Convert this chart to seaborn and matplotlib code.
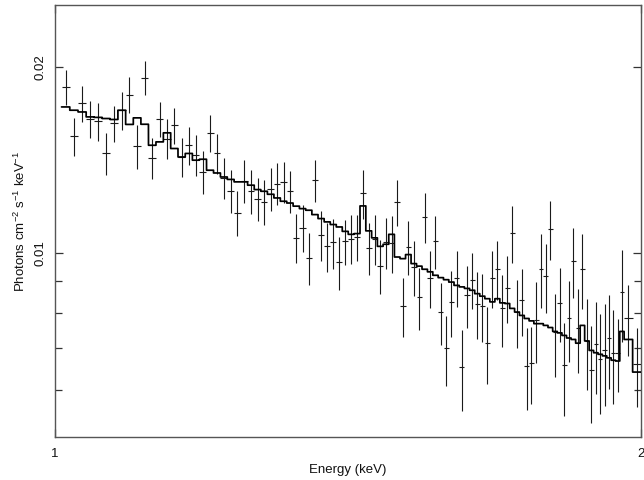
import numpy as np
import pandas as pd
import matplotlib
matplotlib.use("Agg")
import matplotlib.pyplot as plt
from matplotlib.ticker import FixedLocator, NullLocator, NullFormatter, FixedFormatter
import seaborn as sns

# ---------------- data ----------------
energy = [1.0127, 1.0226, 1.0326, 1.0425, 1.0524, 1.0623, 1.0723, 1.0822, 1.0921, 1.1020,
          1.1119, 1.1219, 1.1318, 1.1417, 1.1516, 1.1616, 1.1715, 1.1814, 1.1913, 1.2013,
          1.2112, 1.2211, 1.2310, 1.2409, 1.2509, 1.2608, 1.2707, 1.2806, 1.2906, 1.3005,
          1.3104, 1.3203, 1.3303, 1.3402, 1.3501, 1.3600, 1.3699, 1.3799, 1.3898, 1.3997,
          1.4096, 1.4196, 1.4295, 1.4394, 1.4493, 1.4593, 1.4692, 1.4791, 1.4890, 1.4990,
          1.5089, 1.5188, 1.5287, 1.5386, 1.5486, 1.5585, 1.5684, 1.5783, 1.5883, 1.5982,
          1.6081, 1.6180, 1.6280, 1.6379, 1.6478, 1.6577, 1.6676, 1.6776, 1.6875, 1.6974,
          1.7073, 1.7173, 1.7272, 1.7371, 1.7470, 1.7570, 1.7669, 1.7768, 1.7867, 1.7966,
          1.8066, 1.8165, 1.8264, 1.8363, 1.8463, 1.8562, 1.8661, 1.8760, 1.8860, 1.8959,
          1.9058, 1.9157, 1.9256, 1.9356, 1.9455, 1.9554, 1.9704, 1.9902]
bin_width = [0.00992] * 96 + [0.0198, 0.0198]

flux = [0.01859, 0.01546, 0.01748, 0.01652, 0.01636, 0.01453, 0.01622, 0.01704, 0.01807, 0.01490,
        0.01923, 0.01426, 0.01648, 0.01533, 0.01611, 0.01431, 0.01494, 0.01441, 0.01353, 0.01565,
        0.01450, 0.01323, 0.01261, 0.01161, 0.01309, 0.01261, 0.01225, 0.01210, 0.01272, 0.01296,
        0.01304, 0.01261, 0.01059, 0.01098, 0.00982, 0.01311, 0.01071, 0.01025, 0.01040, 0.00967,
        0.01045, 0.01055, 0.01062, 0.01249, 0.01020, 0.01055, 0.00953, 0.01040, 0.01038, 0.01210,
        0.00820, 0.01023, 0.00949, 0.00848, 0.01144, 0.00912, 0.01045, 0.00802, 0.00700, 0.00833,
        0.00912, 0.00653, 0.00854, 0.00905, 0.00828, 0.00820, 0.00714, 0.00912, 0.00941, 0.00813,
        0.00878, 0.01078, 0.00802, 0.00838, 0.00656, 0.00663, 0.00780, 0.00943, 0.00917, 0.01095,
        0.00744, 0.00830, 0.00657, 0.00783, 0.00971, 0.00756, 0.00943, 0.00720, 0.00645, 0.00711,
        0.00672, 0.00695, 0.00729, 0.00688, 0.00688, 0.00864, 0.00784, 0.00660]

flux_err = [0.00124, 0.00112, 0.00120, 0.00114, 0.00115, 0.00114, 0.00111, 0.00122, 0.00120, 0.00121,
            0.00122, 0.00109, 0.00108, 0.00115, 0.00110, 0.00105, 0.00107, 0.00110, 0.00109, 0.00107,
            0.00107, 0.00101, 0.00100, 0.00097, 0.00106, 0.00104, 0.00099, 0.00101, 0.00101, 0.00101,
            0.00101, 0.00099, 0.00096, 0.00096, 0.00096, 0.00102, 0.00099, 0.00095, 0.00097, 0.00096,
            0.00088, 0.00097, 0.00092, 0.00113, 0.00100, 0.00099, 0.00096, 0.00099, 0.00109, 0.00103,
            0.00090, 0.00103, 0.00098, 0.00097, 0.00105, 0.00097, 0.00104, 0.00093, 0.00091, 0.00102,
            0.00096, 0.00098, 0.00097, 0.00095, 0.00104, 0.00104, 0.00102, 0.00097, 0.00103, 0.00108,
            0.00109, 0.00114, 0.00102, 0.00105, 0.00100, 0.00095, 0.00117, 0.00129, 0.00117, 0.00121,
            0.00114, 0.00114, 0.00113, 0.00117, 0.00127, 0.00117, 0.00131, 0.00121, 0.00115, 0.00121,
            0.00123, 0.00130, 0.00127, 0.00119, 0.00093, 0.00147, 0.00104, 0.00097]

model = [0.01725, 0.01704, 0.01693, 0.01662, 0.01659, 0.01652, 0.01646, 0.01704, 0.01616, 0.01656,
         0.01617, 0.01495, 0.01514, 0.01566, 0.01477, 0.01431, 0.01450, 0.01414, 0.01419, 0.01362,
         0.01348, 0.01328, 0.01316, 0.01304, 0.01304, 0.01288, 0.01267, 0.01259, 0.01245, 0.01228,
         0.01213, 0.01205, 0.01191, 0.01180, 0.01173, 0.01154, 0.01137, 0.01123, 0.01112, 0.01102,
         0.01084, 0.01072, 0.01075, 0.01192, 0.01086, 0.01058, 0.01025, 0.01033, 0.01072, 0.00985,
         0.00979, 0.00994, 0.00961, 0.00952, 0.00941, 0.00932, 0.00920, 0.00912, 0.00905, 0.00897,
         0.00886, 0.00881, 0.00876, 0.00870, 0.00859, 0.00851, 0.00843, 0.00833, 0.00843, 0.00830,
         0.00828, 0.00813, 0.00802, 0.00792, 0.00783, 0.00776, 0.00768, 0.00768, 0.00763, 0.00757,
         0.00746, 0.00742, 0.00735, 0.00728, 0.00724, 0.00714, 0.00763, 0.00720, 0.00695, 0.00689,
         0.00685, 0.00681, 0.00676, 0.00670, 0.00668, 0.00746, 0.00724, 0.00641]

x_ticks = [1, 2]
x_ticklabels = ["1", "2"]
y_ticks = [0.01, 0.02]
y_ticklabels = ["0.01", "0.02"]
y_minor = [0.006, 0.007, 0.008, 0.009]

# ---------------- figure ----------------
sns.set_theme(style="ticks")
plt.rcParams["font.family"] = ["Liberation Sans", "DejaVu Sans"]
plt.rcParams["mathtext.default"] = "regular"

fig = plt.figure(figsize=(6.44, 4.80), dpi=100)
ax = fig.add_axes([55 / 644, 1 - 437 / 480, 586 / 644, 432 / 480])

E = np.array(energy)
W = np.array(bin_width)
lo = E - W / 2
hi = E + W / 2

# model histogram (step) built from bin edges
step_x = np.column_stack([lo, hi]).ravel()
step_y = np.repeat(np.array(model), 2)
step_df = pd.DataFrame({"x": step_x, "y": step_y})
sns.lineplot(data=step_df, x="x", y="y", sort=False, estimator=None,
             color="black", lw=1.25, ax=ax, zorder=3)

# data with error bars
ax.errorbar(E, flux, xerr=W / 2, yerr=flux_err, fmt="none",
            ecolor="#1a1a1a", elinewidth=0.8, capsize=0, zorder=2)

ax.set_xscale("log")
ax.set_yscale("log")
ax.set_xlim(1, 2)
ax.set_ylim(0.00503, 0.02524)

ax.xaxis.set_major_locator(FixedLocator(x_ticks))
ax.xaxis.set_major_formatter(FixedFormatter(x_ticklabels))
ax.xaxis.set_minor_locator(NullLocator())
ax.yaxis.set_major_locator(FixedLocator(y_ticks))
ax.yaxis.set_major_formatter(FixedFormatter(y_ticklabels))
ax.yaxis.set_minor_locator(FixedLocator(y_minor))
ax.yaxis.set_minor_formatter(NullFormatter())

ax.tick_params(which="both", direction="in", top=True, right=True,
               color="#333333", width=0.9, labelsize=9.5, labelcolor="#111111")
ax.tick_params(which="major", length=6)
ax.tick_params(axis="x", which="major", pad=8)
ax.tick_params(axis="y", which="major", pad=6)
ax.tick_params(which="minor", length=5)
for lab in ax.get_yticklabels():
    lab.set_rotation(90)
    lab.set_va("center")

for sp in ax.spines.values():
    sp.set_color("#555555")
    sp.set_linewidth(1.0)

ax.set_xlabel("Energy (keV)", fontsize=9.5, color="#111111", labelpad=3)
ax.set_ylabel(r"Photons cm$^{-2}$ s$^{-1}$ keV$^{-1}$", fontsize=9.5,
              color="#111111", labelpad=5)

fig.savefig("out.png", dpi=100)
